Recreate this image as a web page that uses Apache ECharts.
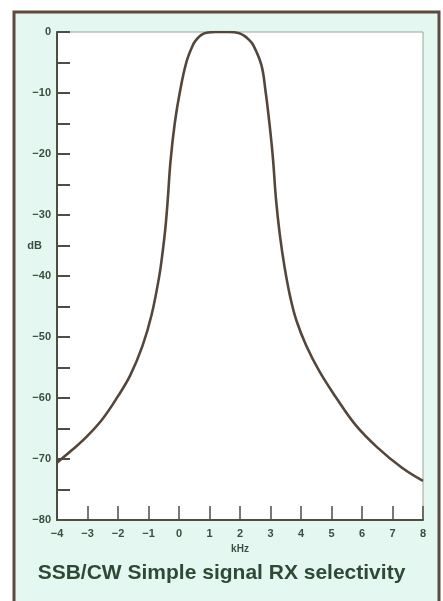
<!DOCTYPE html>
<html>
<head>
<meta charset="utf-8">
<script src="https://cdn.jsdelivr.net/npm/echarts@6/dist/echarts.min.js"></script>
<style>
html,body{margin:0;padding:0;background:#fff;}
#c{width:443px;height:601px;}
</style>
</head>
<body>
<div id="c"></div>
<script>
// Frequency offset (kHz) sample points
var freqKHz = [-4, -3.5, -3, -2.5, -2, -1.6, -1.2, -0.9, -0.65, -0.55, -0.45, -0.37, -0.28, -0.14, 0.03, 0.245, 0.46, 0.58, 0.72, 0.9, 1.2, 1.65, 1.95, 2.12, 2.28, 2.43, 2.7, 2.84, 2.97, 3.08, 3.18, 3.3, 3.46, 3.65, 3.85, 4.17, 4.6, 5.16, 5.8, 6.5, 7.3, 8.0];
// Response (dB)
var responseDb = [-70.6, -68.5, -66.2, -63.4, -59.7, -56.3, -51.5, -46.4, -40.1, -36.6, -32.3, -27.6, -21.3, -15.0, -9.8, -4.9, -2.1, -1.2, -0.5, -0.12, 0, 0, -0.15, -0.55, -1.2, -2.1, -5.4, -9.8, -15.2, -20.7, -27.4, -33.0, -38.5, -43.5, -47.3, -51.4, -55.6, -60.0, -64.5, -68.1, -71.4, -73.6];
var xTicks = [-4, -3, -2, -1, 0, 1, 2, 3, 4, 5, 6, 7, 8];
var yLabelValues = [0, -10, -20, -30, -40, -50, -60, -70, -80];
var yUnitAt = -35;
var titleText = 'SSB/CW Simple signal RX selectivity';
var xName = 'kHz';
var yName = 'dB';

function fmtNum(v){ return v < 0 ? '\u2212' + Math.abs(v) : String(v); }

var points = freqKHz.map(function(f, i){ return [f, responseDb[i]]; });

var chart = echarts.init(document.getElementById('c'), null, {renderer:'canvas'});
var labelColor = '#3b4d3e';
var axisColor = '#4b4f40';
chart.setOption({
  backgroundColor: '#ffffff',
  animation: false,
  graphic: [
    {type:'rect', z:-100, shape:{x:14, y:12, width:425, height:600},
     style:{fill:'#e5f7f1', stroke:'#5e4a3e', lineWidth:3}},
    {type:'text', left:'center', top:563,
     style:{text:titleText, fill:'#2e4a36', font:'bold 21px "Liberation Sans", Arial, sans-serif'}}
  ],
  grid: {left:57, top:32, right:20, bottom:81, show:true, backgroundColor:'#ffffff', borderColor:'#9aa596', borderWidth:1},
  xAxis: {
    type:'value', min:-4, max:8, interval:1,
    name:xName, nameLocation:'middle', nameGap:22,
    nameTextStyle:{color:labelColor, fontSize:10, fontWeight:'bold', fontFamily:'Liberation Sans'},
    axisLine:{show:true, onZero:false, lineStyle:{color:axisColor, width:2}},
    axisTick:{show:true, inside:true, length:14, lineStyle:{color:axisColor, width:1.5}},
    splitLine:{show:false},
    axisLabel:{color:labelColor, fontSize:11, fontWeight:'bold', fontFamily:'Liberation Sans', margin:8,
      formatter:function(v){ return xTicks.indexOf(v) >= 0 ? fmtNum(v) : ''; }}
  },
  yAxis: {
    type:'value', min:-80, max:0, interval:5,
    axisLine:{show:true, onZero:false, lineStyle:{color:axisColor, width:2}},
    axisTick:{show:true, inside:true, length:13, lineStyle:{color:axisColor, width:2}},
    splitLine:{show:false},
    axisLabel:{color:labelColor, fontSize:11, fontWeight:'bold', fontFamily:'Liberation Sans', margin:6,
      formatter:function(v){
        if (yLabelValues.indexOf(v) >= 0) return fmtNum(v);
        if (v === yUnitAt) return '{u|' + yName + '}';
        return '';
      },
      rich:{u:{color:labelColor, fontSize:11, fontWeight:'bold', fontFamily:'Liberation Sans', padding:[0,9,0,0]}}
    }
  },
  series: [{
    type:'line', data:points, smooth:0.4, symbol:'none',
    lineStyle:{color:'#55463b', width:2.6}
  }]
});
</script>
</body>
</html>
